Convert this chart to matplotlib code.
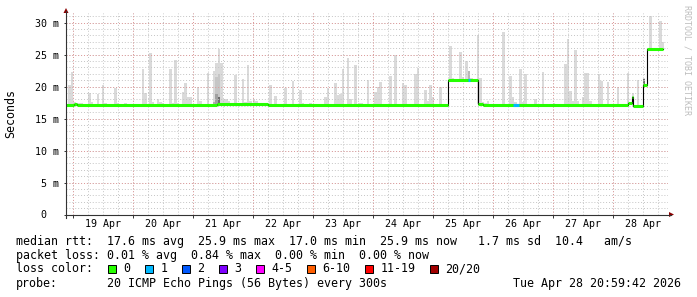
import numpy as np
import matplotlib
matplotlib.use('Agg')
import matplotlib.pyplot as plt
from matplotlib.lines import Line2D
from matplotlib.patches import Polygon, Rectangle

# time axis: hours since 19 Apr 00:00
day_labels = ['19 Apr', '20 Apr', '21 Apr', '22 Apr', '23 Apr',
              '24 Apr', '25 Apr', '26 Apr', '27 Apr', '28 Apr']
y_ticks = [0, 5, 10, 15, 20, 25, 30]
y_labels = ['0  ', '5 m', '10 m', '15 m', '20 m', '25 m', '30 m']

# median rtt (ms), step changes at med_t, last entry of med_t = end of data
med_t = [-2.8, 0.5, 1.5, 57.6, 78.0, 150.1, 162.1, 164.0, 222.0, 223.5,
         224.1, 227.9, 229.5, 236.1]
med_v = [17.05, 17.25, 17.05, 17.35, 17.05, 21.1, 17.35, 17.05, 17.4,
         18.3, 17.0, 20.3, 25.85]

# loss periods (1 of 20 lost)
loss_t0 = [157.9, 176.0]
loss_t1 = [158.7, 178.5]
loss_lvl = [1, 1]

# smoke: hourly bins, max ping (ms)
smoke_h = [-1.5, -0.5, 0.5, 1.5, 2.5, 3.5, 6.5, 7.5, 10, 12, 13, 17, 18, 21,
           28, 29, 31, 32, 34, 35, 36, 39, 40, 41, 42, 44, 45, 46, 47, 50,
           51, 54, 56.5, 57.5, 58.5, 59.5, 60.5, 61.5, 62.5, 65, 68, 69, 70,
           71, 72.5, 73.5, 79, 81, 85, 88, 91, 92, 95, 99.5, 101, 102, 105,
           106, 107, 108, 110, 111, 113, 114.5, 115.5, 118, 121, 122, 123,
           125.5, 127, 129, 132, 133, 137, 138, 141, 142, 143, 144, 147, 151,
           152, 155, 156, 157.5, 158.5, 159.5, 162, 163, 164, 165, 166, 172.3,
           175, 176, 177, 179, 180, 181, 185, 188, 192.5, 197, 198, 199, 200,
           201, 202, 204, 205, 206, 207, 210.5, 211.5, 214, 218, 222, 224,
           226, 228.5, 231, 235, 236]
smoke_top = [20.2, 22.2, 17.6, 17.4, 17.4, 17.4, 19.0, 17.6, 18.8, 20.2, 17.4,
             19.7, 17.4, 17.4, 22.7, 19.0, 25.3, 17.6, 18.1, 17.6, 17.4, 22.7,
             17.5, 24.2, 17.5, 19.1, 20.6, 18.3, 18.3, 20.0, 17.7, 22.1, 22.4,
             23.7, 25.9, 23.7, 18.1, 18.1, 17.8, 21.8, 21.2, 17.6, 23.4, 17.7,
             18.0, 17.8, 20.2, 18.6, 19.7, 20.8, 19.5, 17.5, 17.4, 17.3, 18.4,
             19.7, 20.5, 18.7, 18.8, 22.8, 24.4, 18.0, 23.3, 17.4, 17.4, 21.1,
             19.1, 19.9, 20.7, 17.3, 21.7, 24.9, 20.5, 20.2, 22.0, 22.9, 19.4,
             17.7, 20.2, 18.3, 19.9, 26.3, 21.4, 25.4, 21.5, 24.0, 22.5, 21.3,
             28.0, 21.4, 17.6, 17.5, 17.8, 28.5, 21.6, 18.3, 17.6, 22.8, 17.6,
             22.0, 18.0, 22.2, 17.4, 23.6, 27.4, 19.3, 17.8, 25.7, 17.7, 18.3,
             22.1, 22.1, 17.8, 22.0, 20.8, 20.7, 19.9, 22.1, 19.0, 21.0, 21.3,
             31.0, 30.2, 26.9]

# denser smoke inside some bins: (hour, low, high, grey)
dark_h = [56.5, 57.5, 58.5, 57.5, 58.5, 158.5, 228.5]
dark_lo = [17.1, 18.9, 18.3, 17.3, 17.4, 21.1, 20.3]
dark_hi = [17.6, 21.5, 22.0, 18.9, 18.3, 22.5, 21.2]
dark_col = ['#b0b0b0', '#c6c6c6', '#c6c6c6', '#a0a0a0', '#6c6c6c', '#b8b8b8', '#707070']

loss_names = ['0', '1', '2', '3', '4-5', '6-10', '11-19', '20/20']
loss_colors = ['#26ff00', '#00b8ff', '#0059ff', '#7e00ff', '#ff00ff',
               '#ff5e00', '#ff0000', '#a10000']

W, H = 697, 297
fig = plt.figure(figsize=(W / 100, H / 100), dpi=100, facecolor='white')
MONO = 'DejaVu Sans Mono'


def fx(x):
    return x / W


def fy(y):
    return 1 - y / H


def median_at(h):
    i = np.searchsorted(med_t, h, side='right') - 1
    i = np.clip(i, 0, len(med_v) - 1)
    return np.array(med_v)[i]


X0, X1, YT, YB = 66, 668, 13, 214.5
ax = fig.add_axes([fx(X0), fy(YB), (X1 - X0) / W, (YB - YT) / H])
ax.set_xlim(-2.8, 238)
ax.set_ylim(0, 31.5)
for s in ax.spines.values():
    s.set_visible(False)

# smoke
sh = np.array(smoke_h, dtype=float)
bottoms = np.minimum(median_at(sh - 0.5), median_at(sh + 0.5)) - 0.1
ax.bar(sh, np.array(smoke_top) - bottoms, bottom=bottoms, width=1.0,
       color='#dadada', linewidth=0, zorder=1)
ax.bar(dark_h, np.array(dark_hi) - np.array(dark_lo), bottom=dark_lo,
       width=1.0, color=dark_col, linewidth=0, zorder=1.5)

# grid
dots = (0, (1, 2))
for h in np.arange(0, 238, 6):
    ax.axvline(h, color='#c4c4c4', lw=0.7, ls=dots, zorder=2)
for v in range(1, 32):
    ax.axhline(v, color='#c4c4c4', lw=0.7, ls=dots, zorder=2)
for d in range(len(day_labels)):
    ax.axvline(24 * d, color='#e09a9a', lw=0.7, ls=dots, zorder=2.1)
for v in y_ticks[1:]:
    ax.axhline(v, color='#e09a9a', lw=0.7, ls=dots, zorder=2.1)

# median line: black steps, coloured by loss
ax.plot(med_t, med_v + [med_v[-1]], drawstyle='steps-post', color='black',
        lw=0.8, zorder=4)
ax.hlines(med_v, med_t[:-1], med_t[1:], color=loss_colors[0], lw=2.2, zorder=5)
for a, b, l in zip(loss_t0, loss_t1, loss_lvl):
    ax.hlines(median_at(a), a, b, color=loss_colors[l], lw=2.2, zorder=6)

# ticks and labels
ax.set_xticks([24 * d + 12 for d in range(len(day_labels))])
ax.set_xticklabels(day_labels, family=MONO, fontsize=7.2)
ax.set_xticks([24 * d for d in range(len(day_labels))], minor=True)
ax.tick_params(axis='x', which='major', length=0, pad=3.2)
ax.tick_params(axis='x', which='minor', length=2.5, width=0.7, color='#333333')
ax.set_yticks(y_ticks)
ax.set_yticklabels(y_labels, family=MONO, fontsize=7.2)
ax.tick_params(axis='y', length=1.5, width=0.7, color='#333333', pad=3.5)

# axes lines and arrows
fig.add_artist(Line2D([fx(X0), fx(671)], [fy(YB), fy(YB)], color='#333333', lw=0.8))
fig.add_artist(Line2D([fx(X0), fx(X0)], [fy(218), fy(11)], color='#333333', lw=0.8))
fig.add_artist(Polygon([[fx(63.5), fy(13)], [fx(68.5), fy(13)], [fx(66), fy(8)]],
                       closed=True, color='#8b0000', lw=0))
fig.add_artist(Polygon([[fx(669), fy(212)], [fx(669), fy(217)], [fx(674), fy(YB)]],
                       closed=True, color='#8b0000', lw=0))

fig.text(fx(11), fy(114), 'Seconds', rotation=90, ha='center', va='center',
         family=MONO, fontsize=8.4)
fig.text(fx(687), fy(5), 'RRDTOOL / TOBI OETIKER', rotation=270, ha='center',
         va='top', family=MONO, fontsize=6, color='#bdbdbd')

# legend
LS = 8.37
fig.text(fx(16), fy(241.3),
         'median rtt:  17.6 ms avg  25.9 ms max  17.0 ms min  25.9 ms now   1.7 ms sd  10.4   am/s',
         family=MONO, fontsize=LS, va='center')
fig.text(fx(16), fy(255.3),
         'packet loss: 0.01 % avg  0.84 % max  0.00 % min  0.00 % now',
         family=MONO, fontsize=LS, va='center')
fig.text(fx(16), fy(268.7), 'loss color:', family=MONO, fontsize=LS, va='center')
bx = 108.3
for name, col in zip(loss_names, loss_colors):
    fig.add_artist(Rectangle((fx(bx), fy(272.5)), 7.2 / W, 8 / H, facecolor=col,
                             edgecolor='black', lw=0.7))
    fig.text(fx(bx + 15), fy(268.7), name, family=MONO, fontsize=LS, va='center')
    bx = bx + 15 + 7.0 * len(name) + 15
fig.text(fx(16), fy(283), 'probe:', family=MONO, fontsize=LS, va='center')
fig.text(fx(107), fy(283), '20 ICMP Echo Pings (56 Bytes) every 300s',
         family=MONO, fontsize=LS, va='center')
fig.text(fx(681), fy(283), 'Tue Apr 28 20:59:42 2026', family=MONO, fontsize=LS,
         va='center', ha='right')

fig.savefig('out.png', dpi=100, facecolor='white')
